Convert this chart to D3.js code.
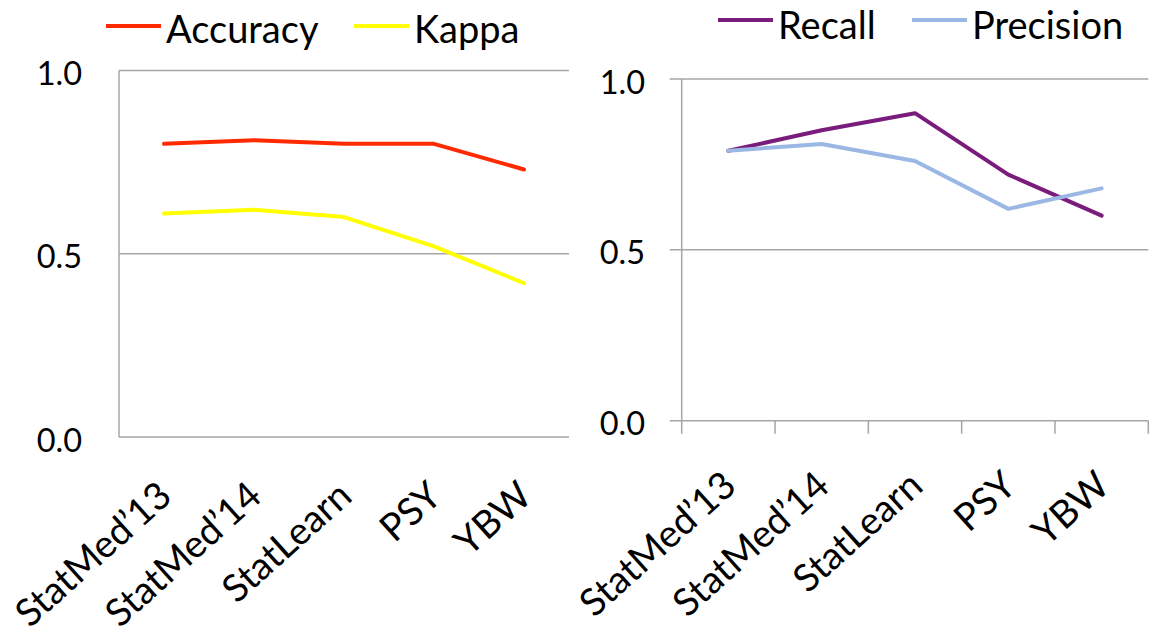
<!DOCTYPE html>
<html>
<head>
<meta charset="utf-8">
<script src="https://cdn.jsdelivr.net/npm/d3@7"></script>
<style>
  html, body { margin: 0; padding: 0; background: #fff; }
  svg { display: block; font-family: Lato, "Open Sans", sans-serif; }
</style>
</head>
<body>
<svg id="chart" width="1156" height="636"></svg>
<script>
// Corpora compared in both panels
const categories = ["StatMed\u201913", "StatMed\u201914", "StatLearn", "PSY", "YBW"];

// Left panel series
const accuracy = [0.80, 0.81, 0.80, 0.80, 0.73];
const kappa = [0.61, 0.62, 0.60, 0.52, 0.42];

// Right panel series
const recall = [0.79, 0.85, 0.90, 0.72, 0.60];
const precision = [0.79, 0.81, 0.76, 0.62, 0.68];

// Shared value ticks
const yTicks = [0, 0.5, 1.0];

const svg = d3.select("#chart");
const gridColor = "#a6a6a6";
const fmt = d3.format(".1f");

function drawPanel(opts) {
  const g = svg.append("g");
  const x = d3.scaleBand().domain(categories).range([opts.x0, opts.x1]).padding(0);
  const y = d3.scaleLinear().domain([0, 1]).range([opts.y0, opts.y1]);
  const cx = c => x(c) + x.bandwidth() / 2;

  // horizontal grid / baseline
  g.selectAll("line.grid").data(yTicks).join("line")
    .attr("class", "grid")
    .attr("x1", opts.x0 - opts.yTick).attr("x2", opts.x1)
    .attr("y1", d => y(d)).attr("y2", d => y(d))
    .attr("stroke", gridColor).attr("stroke-width", 1.5);

  // vertical axis line
  g.append("line")
    .attr("x1", opts.x0).attr("x2", opts.x0)
    .attr("y1", y(0)).attr("y2", y(1))
    .attr("stroke", gridColor).attr("stroke-width", 1.5);

  // category boundary ticks
  if (opts.xTick > 0) {
    const bounds = categories.map(c => x(c)).concat([opts.x1]);
    g.selectAll("line.xt").data(bounds).join("line")
      .attr("class", "xt")
      .attr("x1", d => d).attr("x2", d => d)
      .attr("y1", y(0)).attr("y2", y(0) + opts.xTick)
      .attr("stroke", gridColor).attr("stroke-width", 1.5);
  }

  // value labels
  g.selectAll("text.yl").data(yTicks).join("text")
    .attr("class", "yl")
    .attr("x", opts.labelX)
    .attr("y", d => y(d) + 14.5)
    .attr("text-anchor", "end")
    .attr("font-size", 32.5)
    .attr("fill", "#000")
    .text(d => fmt(d));

  // category labels, slanted
  g.selectAll("text.xl").data(categories).join("text")
    .attr("class", "xl")
    .attr("transform", c => `translate(${cx(c) + 10},${y(0) + opts.catDy}) rotate(-42)`)
    .attr("text-anchor", "end")
    .attr("font-size", 38)
    .attr("fill", "#000")
    .text(c => c);

  // series lines
  const line = d3.line().x((d, i) => cx(categories[i])).y(d => y(d));
  opts.series.forEach(s => {
    g.append("path")
      .datum(s.values)
      .attr("d", line)
      .attr("fill", "none")
      .attr("stroke", s.color)
      .attr("stroke-width", 4)
      .attr("stroke-linejoin", "round")
      .attr("stroke-linecap", "round");
  });

  // legend
  opts.series.forEach(s => {
    g.append("line")
      .attr("x1", s.lx).attr("x2", s.lx + 55)
      .attr("y1", opts.legendY).attr("y2", opts.legendY)
      .attr("stroke", s.color).attr("stroke-width", 4);
    g.append("text")
      .attr("x", s.lx + 60).attr("y", opts.legendBase)
      .attr("font-size", 38)
      .attr("fill", "#000")
      .text(s.name);
  });
}

drawPanel({
  x0: 119, x1: 569, y0: 437, y1: 70.5,
  yTick: 0, xTick: 0, labelX: 82, catDy: 62, legendY: 26, legendBase: 42.5,
  series: [
    { name: "Accuracy", values: accuracy, color: "#ff2a00", lx: 106 },
    { name: "Kappa", values: kappa, color: "#ffff00", lx: 354 }
  ]
});

drawPanel({
  x0: 681.7, x1: 1148.3, y0: 420.7, y1: 79,
  yTick: 12, xTick: 13, labelX: 645, catDy: 68, legendY: 20, legendBase: 38.5,
  series: [
    { name: "Recall", values: recall, color: "#7a1c7c", lx: 718 },
    { name: "Precision", values: precision, color: "#9bb8e4", lx: 912 }
  ]
});
</script>
</body>
</html>
